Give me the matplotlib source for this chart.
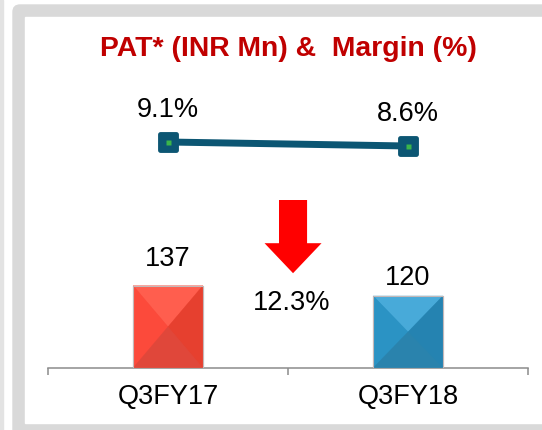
import matplotlib.pyplot as plt
from matplotlib.patches import Polygon, FancyBboxPatch, Rectangle
from matplotlib.markers import MarkerStyle
from matplotlib.transforms import IdentityTransform

plt.rcParams['font.family'] = ['Liberation Sans', 'DejaVu Sans']

# data
categories = ["Q3FY17", "Q3FY18"]
pat = [137, 120]
margin = [9.1, 8.6]
change_label = "12.3%"
title = "PAT* (INR Mn) &  Margin (%)"

# bar face colours: base, top, left, right, bottom
red_shades = ["#f5473a", "#ff5e4e", "#fc4a3b", "#e6402f", "#e0473a"]
blue_shades = ["#2a8cbd", "#48aad9", "#2b93c4", "#2583b1", "#2a83ad"]
bar_shades = [red_shades, blue_shades]

W, H = 542, 430
fig = plt.figure(figsize=(W / 100, H / 100), dpi=100)

# panel frame (pixel coords)
pix = IdentityTransform()
fig.add_artist(Rectangle((0, 0), 2.7, H, transform=pix, color="#e3e3e3", zorder=-3))
fig.add_artist(FancyBboxPatch((13, -20), 700, H - 5 + 20, boxstyle="round,pad=0,rounding_size=7",
                              transform=pix, color="#d9d9d9", zorder=-2))
fig.add_artist(Rectangle((25, H - 423), 700, 423 - 17, transform=pix, color="white", zorder=-1))

fig.text(288 / W, 1 - 49 / H, title, ha="center", va="center", fontsize=20.4,
         fontweight="bold", color="#c00000")

rect = [48 / W, (H - 368) / H, 480 / W, 351 / H]
ax = fig.add_axes(rect)
ax.patch.set_visible(False)
ax.set_xlim(-0.5, 1.5)
ax.set_ylim(0, 585)

x = list(range(len(categories)))
bw = 0.29
ax.bar(x, pat, width=bw, color=[s[0] for s in bar_shades], edgecolor="#c4b8b8",
       linewidth=0.8, zorder=2)

# bevelled look: four triangles meeting at the bar centre
for i, h in enumerate(pat):
    l, r = i - bw / 2, i + bw / 2
    c = (i, h / 2)
    sh = bar_shades[i]
    faces = [
        [(l, h), (r, h), c],
        [(l, 0), (l, h), c],
        [(r, 0), (r, h), c],
        [(l, 0), (r, 0), c],
    ]
    for f, col in zip(faces, sh[1:]):
        ax.add_patch(Polygon(f, closed=True, facecolor=col, edgecolor=col, lw=0.3, zorder=3))
    ax.add_patch(Rectangle((l, 0), bw, h, fill=False, edgecolor="#c4b8b8", lw=0.8, zorder=4))

label_off = [19, 13]
for i, v in enumerate(pat):
    ax.annotate(str(v), (i, v), xytext=(0, label_off[i]), textcoords="offset points",
                ha="center", va="center", fontsize=19.5)

for s in ["top", "left", "right"]:
    ax.spines[s].set_visible(False)
ax.spines["bottom"].set_color("#8c8c8c")
ax.spines["bottom"].set_linewidth(1.1)
ax.set_yticks([])
ax.set_xticks([-0.5, 0.5, 1.5])
ax.set_xticklabels([])
ax.tick_params(axis="x", which="major", length=5, width=1.1, color="#8c8c8c", direction="out")
ax.set_xticks(x, minor=True)
ax.set_xticklabels(categories, minor=True, fontsize=19.5)
ax.tick_params(axis="x", which="minor", length=0, pad=11.5)

ax.arrow(0.521, 280, 0, -122, width=0.117, head_width=0.2375, head_length=50,
         length_includes_head=True, color="#ff0000", lw=0, zorder=3)
ax.text(0.515, 108, change_label, ha="center", va="center", fontsize=19.5)

# margin line on its own scale
ax2 = fig.add_axes(rect, sharex=ax)
ax2.patch.set_visible(False)
ax2.axis("off")
ax2.set_ylim(-19.15, 24.725)
ax2.plot(x, margin, color="#0c5673", lw=5, solid_capstyle="butt", zorder=2)
ax2.plot(x, margin, ls="none", marker=MarkerStyle("s", joinstyle="round"), ms=12,
         mfc="#0c5673", mec="#0c5673", mew=3.5, zorder=3)
ax2.plot(x, margin, ls="none", marker="s", ms=3.6, mfc="#3bb54a", mec="none", zorder=4)
for i, v in enumerate(margin):
    ax2.annotate(f"{v}%", (i, v), xytext=(0, 23), textcoords="offset points",
                 ha="center", va="center", fontsize=19.5)

fig.savefig("out.png", dpi=100)
